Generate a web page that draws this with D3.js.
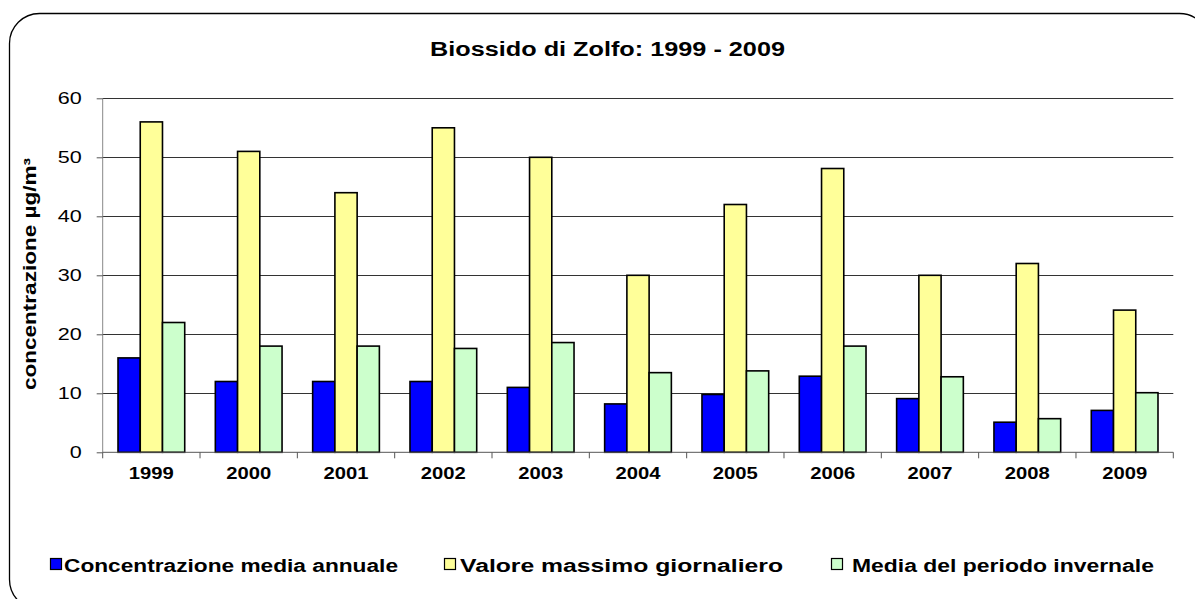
<!DOCTYPE html>
<html><head><meta charset="utf-8">
<script src="https://cdn.jsdelivr.net/npm/d3@7"></script>
<style>body{margin:0;background:#fff}svg{display:block}text{font-family:"Liberation Sans",Arial,sans-serif}</style>
</head><body><svg id="c" width="1195" height="599"></svg>
<script>
const years = ["1999","2000","2001","2002","2003","2004","2005","2006","2007","2008","2009"];
const mediaAnnuale = [16,12,12,12,11,8.2,9.8,12.9,9.1,5.1,7.1];
const massimoGiornaliero = [56,51,44,55,50,30,42,48.1,30,32,24.1];
const mediaInvernale = [22,18,18,17.6,18.6,13.5,13.8,18,12.8,5.7,10.1];
const seriesNames = ["Concentrazione media annuale","Valore massimo giornaliero","Media del periodo invernale"];
const yTicks = [0,10,20,30,40,50,60];

const colors = ["#0000FF","#FFFF99","#CCFFCC"];
const series = [mediaAnnuale, massimoGiornaliero, mediaInvernale];

const svg = d3.select("#c");
svg.append("rect").attr("x",9.5).attr("y",13.5).attr("width",1200).attr("height",596)
  .attr("rx",30).attr("ry",30).attr("fill","none").attr("stroke","#000").attr("stroke-width",1.3);

const L=102.7, R=1173.3, T=98.3, B=452.3;
const x = d3.scaleBand().domain(years).range([L,R]).paddingInner(0).paddingOuter(0);
const y = d3.scaleLinear().domain([0,60]).range([B,T]);
const bw = x.bandwidth()*0.2285;

svg.append("g").selectAll("line").data(yTicks.filter(d=>d>0)).join("line")
  .attr("x1",L).attr("x2",R).attr("y1",d=>Math.round(y(d))+0.5).attr("y2",d=>Math.round(y(d))+0.5)
  .attr("stroke","#333").attr("stroke-width",1);

const ya = svg.append("g").attr("transform",`translate(${L},0)`)
  .call(d3.axisLeft(y).tickValues(yTicks).tickSize(6).tickPadding(15));
ya.select(".domain").attr("stroke","#888").attr("d",`M0,${T}V${B}`);
ya.selectAll(".tick line").attr("stroke","#555");
ya.selectAll("text").attr("font-size",17).attr("fill","#000")
  .attr("font-family","Liberation Sans, Arial, sans-serif")
  .attr("textLength",d=>String(d).length*12).attr("lengthAdjust","spacingAndGlyphs");

const g = svg.append("g");
years.forEach((yr,i)=>{
  const cx = x(yr)+x.bandwidth()/2;
  series.forEach((s,k)=>{
    g.append("rect").attr("x",cx-1.5*bw+k*bw).attr("y",y(s[i])).attr("width",bw).attr("height",B-y(s[i]))
      .attr("fill",colors[k]).attr("stroke","#000").attr("stroke-width",1.6);
  });
});

const xa = svg.append("g").attr("transform",`translate(0,${B})`)
  .call(d3.axisBottom(x).tickSize(0).tickPadding(11));
xa.select(".domain").attr("stroke","#555").attr("d",`M${L},0H${R}`);
xa.selectAll("text").attr("font-size",17).attr("font-weight","bold").attr("fill","#000")
  .attr("font-family","Liberation Sans, Arial, sans-serif").attr("dy","0.9em")
  .attr("textLength",45).attr("lengthAdjust","spacingAndGlyphs");
svg.append("g").selectAll("line").data(years.concat(["end"])).join("line")
  .attr("x1",(d,i)=>L+i*x.bandwidth()).attr("x2",(d,i)=>L+i*x.bandwidth())
  .attr("y1",B).attr("y2",B+6).attr("stroke","#555");

svg.append("text").attr("x",430).attr("y",56)
  .attr("font-size",20).attr("font-weight","bold").attr("textLength",355).attr("lengthAdjust","spacingAndGlyphs")
  .text("Biossido di Zolfo: 1999 - 2009");

svg.append("text").attr("transform","translate(36,390) rotate(-90)")
  .attr("font-size",18).attr("font-weight","bold").attr("textLength",232).attr("lengthAdjust","spacingAndGlyphs")
  .text("concentrazione µg/m³");

const legX = [[50,64,334],[444,460,323],[831,852,302]];
seriesNames.forEach((n,k)=>{
  svg.append("rect").attr("x",legX[k][0]+0.5).attr("y",558.5).attr("width",11).attr("height",11)
    .attr("fill",colors[k]).attr("stroke","#000").attr("stroke-width",1.2);
  svg.append("text").attr("x",legX[k][1]).attr("y",572).attr("font-size",18).attr("font-weight","bold")
    .attr("textLength",legX[k][2]).attr("lengthAdjust","spacingAndGlyphs").text(n);
});
</script></body></html>
